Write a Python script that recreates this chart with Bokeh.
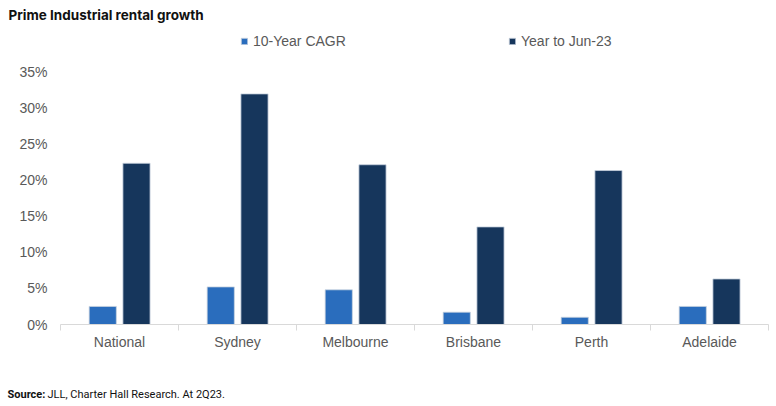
from bokeh.plotting import figure
from bokeh.models import (FixedTicker, Range1d, Label, Legend, LegendItem,
                          ColumnDataSource)
from bokeh.transform import dodge
from bokeh.embed import file_html
from bokeh.resources import INLINE

categories = ["National", "Sydney", "Melbourne", "Brisbane", "Perth", "Adelaide"]
cagr_10y = [2.5, 5.2, 4.8, 1.7, 1.0, 2.5]
year_to_jun23 = [22.3, 31.9, 22.1, 13.5, 21.3, 6.3]
series_names = ["10-Year CAGR", "Year to Jun-23"]
y_ticks = [0, 5, 10, 15, 20, 25, 30, 35]
title_text = "Prime Industrial rental growth"
source_bold = "Source:"
source_text = "JLL, Charter Hall Research. At 2Q23."

LIGHT = "#2a6dbd"
DARK = "#16365c"
GREY = "#595959"
FONT = "Liberation Sans"

W, H = 770, 400
# plot area geometry in canvas pixels
PX0, PX1 = 60, 768      # left / right of category band
PY0, PY35 = 324, 71     # pixel rows of 0% and 35%
ncat = len(categories)
xs = (PX1 - PX0) / ncat
ys = (PY0 - PY35) / 35.0

p = figure(width=W, height=H, output_backend="svg", toolbar_location=None,
           x_range=Range1d(-PX0 / xs, ncat + (W - PX1) / xs),
           y_range=Range1d(-(H - PY0) / ys, PY0 / ys),
           min_border=0)
p.outline_line_color = None
p.xgrid.grid_line_color = None
p.ygrid.grid_line_color = None
p.background_fill_color = "white"
p.border_fill_color = "white"

centers = [i + 0.5 for i in range(ncat)]
src = ColumnDataSource(dict(x=centers, a=cagr_10y, b=year_to_jun23))
bw = 0.23
r1 = p.vbar(x=dodge("x", -0.142), top="a", width=bw, bottom=0, source=src,
            fill_color=LIGHT, line_color="#c8d2de", line_width=0.8)
r2 = p.vbar(x=dodge("x", 0.144), top="b", width=bw, bottom=0, source=src,
            fill_color=DARK, line_color="#c8d2de", line_width=0.8)

xa = p.xaxis[0]
xa.fixed_location = 0
xa.bounds = (0, ncat)
xa.ticker = FixedTicker(ticks=centers, minor_ticks=list(range(ncat + 1)))
xa.major_label_overrides = {c: n for c, n in zip(centers, categories)}
xa.major_tick_line_color = None
xa.major_tick_out = 0
xa.major_tick_in = 0
xa.minor_tick_out = 6
xa.minor_tick_in = 0
xa.minor_tick_line_color = "#d9d9d9"
xa.axis_line_color = "#d9d9d9"
xa.axis_line_width = 1
xa.major_label_text_font = FONT
xa.major_label_text_font_size = "14px"
xa.major_label_text_color = GREY
xa.major_label_standoff = 3

ya = p.yaxis[0]
ya.fixed_location = 0
ya.ticker = FixedTicker(ticks=y_ticks)
ya.major_label_overrides = {t: f"{t}%" for t in y_ticks}
ya.axis_line_color = None
ya.major_tick_line_color = None
ya.minor_tick_line_color = None
ya.major_tick_out = 0
ya.major_label_standoff = 13
ya.major_label_text_font = FONT
ya.major_label_text_font_size = "14px"
ya.major_label_text_color = GREY

# title (screen units measured from frame bottom-left = canvas bottom-left)
p.add_layout(Label(x=8, y=H - 14, x_units="screen", y_units="screen",
                   text=title_text, text_font="Inter", text_font_style="bold",
                   text_font_size="13.5px", text_color="#111111",
                   text_baseline="middle"))

for rend, name, lx in [(r1, series_names[0], 240), (r2, series_names[1], 508)]:
    lg = Legend(items=[LegendItem(label=name, renderers=[rend])],
                location=(lx, H - 41 - 8), orientation="horizontal",
                padding=0, margin=0, border_line_color=None,
                background_fill_alpha=0, glyph_width=8, glyph_height=8,
                label_height=16, label_standoff=5,
                label_text_font=FONT, label_text_font_size="14px",
                label_text_color=GREY)
    p.add_layout(lg, "center")

sy = H - 394
p.add_layout(Label(x=7, y=sy, x_units="screen", y_units="screen",
                   text=source_bold, text_font="Roboto", text_font_style="bold",
                   text_font_size="11px", text_color="#111111",
                   text_baseline="middle"))
p.add_layout(Label(x=47, y=sy, x_units="screen", y_units="screen",
                   text=source_text, text_font="Roboto",
                   text_font_size="11px", text_color="#111111",
                   text_baseline="middle"))

open("out.html", "w").write(file_html(p, INLINE))
